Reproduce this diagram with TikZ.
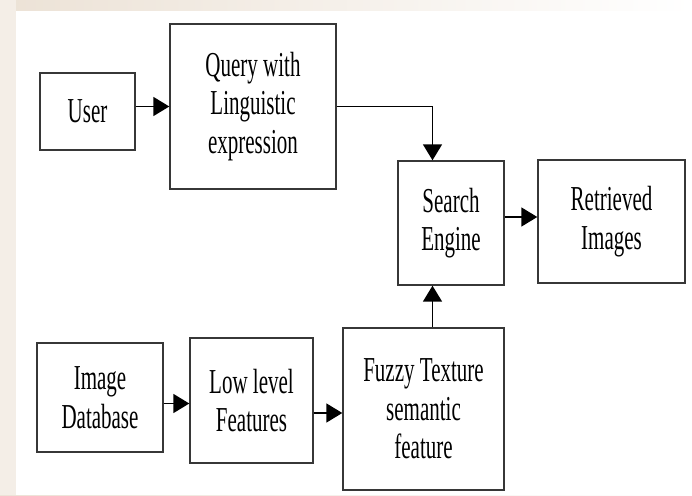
\documentclass[tikz,border=0pt]{standalone}
\usepackage{fontspec}
\setmainfont{Liberation Serif}[FakeStretch=0.6]
\usetikzlibrary{arrows.meta,calc}
\definecolor{edgegray}{RGB}{55,55,55}
\definecolor{paper}{RGB}{236,226,214}
\tikzset{
  blk/.style={draw=edgegray, line width=1.4pt, fill=white, align=center,
    inner sep=0pt, font=\fontsize{35}{38.5}\selectfont},
  arr/.style={draw=black, line width=1.6pt,
    -{Triangle[length=16pt,width=19pt]}},
}
\begin{document}
\begin{tikzpicture}[x=1pt,y=1pt]
  % page area with faded margin
  \useasboundingbox (0,0) rectangle (692,495);
  \shade[left color=paper, right color=white] (0,0) rectangle (692,495);
  \fill[paper!60] (0,0) rectangle (16,495);
  \fill[white] (16,0) rectangle (692,484);

  % blocks (centres measured from the top-left, y downward)
  \node[blk, minimum width=95pt,  minimum height=77pt]  (user)  at (87.5, 495-111.5) {User};
  \node[blk, minimum width=166pt, minimum height=165pt] (query) at (253, 495-106.5) {Query with\\Linguistic\\expression};
  \node[blk, minimum width=106pt, minimum height=124pt] (search) at (451, 495-223) {Search\\Engine};
  \node[blk, minimum width=147pt, minimum height=123pt] (retr)  at (611.5, 495-221.5) {Retrieved\\Images};
  \node[blk, minimum width=126pt, minimum height=109pt] (imgdb) at (100, 495-397.5) {Image\\Database};
  \node[blk, minimum width=123pt, minimum height=125pt] (low)   at (251.5, 495-400.5) {Low level\\Features};
  \node[blk, minimum width=161pt, minimum height=162pt] (fuzzy) at (423.5, 495-409) {Fuzzy Texture\\semantic\\feature};

  % vertical line into the search engine
  \coordinate (sx) at (432.5, 495-223);

  % connectors
  \draw[arr] (query.west -| user.east) -- (query.west);
  \draw[arr] (query.east) -| (search.north -| sx);
  \draw[arr] (fuzzy.north -| sx) -- (search.south -| sx);
  \draw[arr] ([yshift=6pt]search.east) -- ([yshift=6pt]search.east -| retr.west);
  \draw[arr] ([yshift=-3pt]low.west -| imgdb.east) -- ([yshift=-3pt]low.west);
  \draw[arr] ([yshift=-4pt]fuzzy.west -| low.east) -- ([yshift=-4pt]fuzzy.west);
\end{tikzpicture}
\end{document}
